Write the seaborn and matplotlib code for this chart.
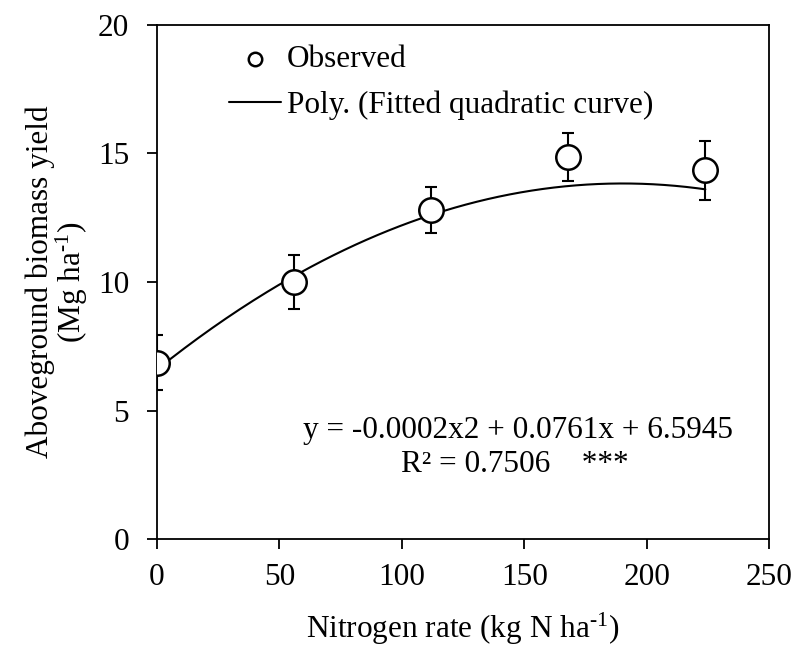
import numpy as np
import pandas as pd
import matplotlib
matplotlib.use("Agg")
import matplotlib.pyplot as plt
import seaborn as sns

# Data
n_rate = [0, 56, 112, 168, 224]
yield_obs = [6.85, 10.0, 12.8, 14.85, 14.35]
yield_err = [1.07, 1.07, 0.9, 0.93, 1.15]
coef = [-0.0002, 0.0761, 6.5945]  # quadratic fit
x_ticks = [0, 50, 100, 150, 200, 250]
y_ticks = [0, 5, 10, 15, 20]

sns.set_style("ticks")
plt.rcParams['font.family'] = ['Liberation Serif', 'DejaVu Serif']
plt.rcParams['mathtext.fontset'] = 'custom'
plt.rcParams['mathtext.rm'] = 'Liberation Serif'
plt.rcParams['mathtext.it'] = 'Liberation Serif:italic'
plt.rcParams['text.color'] = 'black'
plt.rcParams['axes.labelcolor'] = 'black'
FS = 22.5

fig = plt.figure(figsize=(7.97, 6.46), dpi=100)
ax = fig.add_axes([157/797, 1-539/646, (769-157)/797, (539-25)/646])

xfit = np.linspace(0, 224, 200)
fit_df = pd.DataFrame({"x": xfit, "y": np.polyval(coef, xfit)})
obs_df = pd.DataFrame({"x": n_rate, "y": yield_obs})

ax.errorbar(n_rate, yield_obs, yerr=yield_err, fmt='none', ecolor='black',
            elinewidth=1.5, capsize=4.5, capthick=1.5, zorder=2)
sns.lineplot(data=fit_df, x="x", y="y", color='black', lw=1.5, ax=ax,
             label='Poly. (Fitted quadratic curve)', zorder=3)
sns.scatterplot(data=obs_df, x="x", y="y", marker='o', s=310, facecolor='white',
                edgecolor='black', linewidth=1.8, ax=ax, label='Observed', zorder=4)

ax.set_xlim(0, 250)
ax.set_ylim(0, 20)
ax.set_xticks(x_ticks)
ax.set_yticks(y_ticks)
ax.tick_params(axis='both', direction='out', length=7, width=1.3, labelsize=FS,
               colors='black')
ax.tick_params(axis='x', pad=10)
ax.tick_params(axis='y', pad=13)
for s in ax.spines.values():
    s.set_linewidth(1.3)
    s.set_color('black')
    s.set_visible(True)

ax.set_xlabel(r'Nitrogen rate (kg N ha$^{\text{-1}}$)', fontsize=FS, labelpad=14)
ax.set_ylabel('Aboveground biomass yield\n' + r'(Mg ha$^{\text{-1}}$)', fontsize=FS,
              labelpad=6, linespacing=0.95)

h, l = ax.get_legend_handles_labels()
order = [l.index('Observed'), l.index('Poly. (Fitted quadratic curve)')]
leg = ax.legend([h[i] for i in order], [l[i] for i in order], loc='upper left',
                bbox_to_anchor=(0.072, 1.015), frameon=False, fontsize=FS,
                handlelength=1.65, handletextpad=0.2, labelspacing=0.5, markerscale=0.55)

ax.text(0.59, 0.212, 'y = -0.0002x2 + 0.0761x + 6.5945', transform=ax.transAxes,
        ha='center', va='center', fontsize=FS)
ax.text(0.585, 0.144, 'R² = 0.7506    ***', transform=ax.transAxes,
        ha='center', va='center', fontsize=FS)

fig.savefig('out.png', dpi=100)
